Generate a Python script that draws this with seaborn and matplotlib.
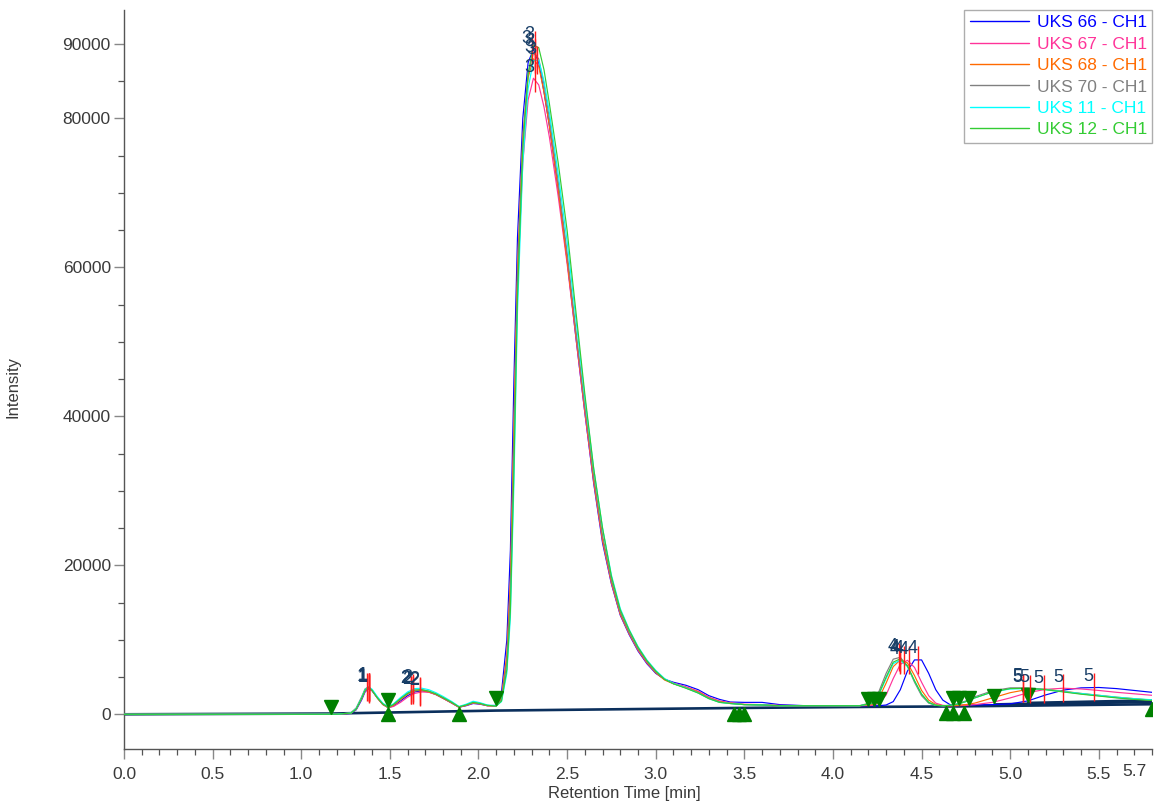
import numpy as np
import pandas as pd
import matplotlib
matplotlib.use("Agg")
import matplotlib.pyplot as plt
import matplotlib.transforms as mtrans
from matplotlib.ticker import MultipleLocator, FixedLocator, NullFormatter
import seaborn as sns

# ---------------- data ----------------
time_min = [0.00, 0.50, 1.00, 1.20, 1.28, 1.31, 1.34, 1.36, 1.38, 1.40,
            1.43, 1.46, 1.49, 1.52, 1.56, 1.60, 1.64, 1.68, 1.72, 1.76,
            1.80, 1.85, 1.89, 1.93, 1.97, 2.01, 2.05, 2.10, 2.13, 2.16,
            2.18, 2.20, 2.22, 2.25, 2.28, 2.31, 2.34, 2.37, 2.40, 2.45,
            2.50, 2.55, 2.60, 2.65, 2.70, 2.75, 2.80, 2.85, 2.90, 2.95,
            3.00, 3.05, 3.10, 3.17, 3.24, 3.30, 3.36, 3.42, 3.50, 3.60,
            3.70, 3.85, 4.00, 4.15, 4.22, 4.26, 4.30, 4.34, 4.38, 4.42,
            4.46, 4.50, 4.54, 4.58, 4.62, 4.66, 4.70, 4.75, 4.80, 4.90,
            5.00, 5.10, 5.20, 5.30, 5.40, 5.50, 5.60, 5.70, 5.80]

uks66 = [0, 0, 0, 10, 120, 600, 1900, 3000, 3450, 3150,
         2200, 1350, 900, 1100, 1800, 2500, 3000, 3150, 3000, 2650,
         2150, 1500, 950, 1150, 1450, 1350, 1150, 1200, 3000, 10000,
         22000, 45000, 64000, 80000, 87500, 89300, 87500, 83500, 79000, 70500,
         61000, 50500, 40500, 31000, 23000, 17500, 13300, 10700, 8500, 6800,
         5500, 4700, 4300, 3900, 3300, 2500, 2000, 1650, 1600, 1600,
         1300, 1150, 1150, 1150, 1150, 1150, 1250, 1700, 3300, 5800,
         7300, 7300, 5500, 3300, 1900, 1300, 1200, 1200, 1250, 1300,
         1400, 1800, 2600, 3250, 3550, 3600, 3450, 3200, 2950]

uks67 = [0, 0, 0, 10, 130, 650, 2000, 3100, 3500, 3150,
         2200, 1350, 900, 1050, 1600, 2300, 2800, 3000, 2950, 2650,
         2150, 1500, 950, 1200, 1500, 1400, 1150, 1100, 2200, 7500,
         17000, 38000, 58000, 74000, 82500, 85400, 84500, 81500, 77500, 69500,
         60500, 50500, 40500, 31200, 23300, 17600, 13400, 10800, 8600, 6900,
         5600, 4700, 4200, 3700, 3100, 2300, 1800, 1550, 1350, 1300,
         1200, 1150, 1150, 1150, 1200, 1500, 2600, 4800, 6700, 7250,
         6300, 4300, 2500, 1500, 1200, 1150, 1150, 1200, 1300, 1600,
         2200, 2900, 3350, 3500, 3400, 3200, 2950, 2750, 2550]

uks68 = [0, 0, 0, 10, 160, 750, 2200, 3300, 3600, 3200,
         2150, 1300, 900, 1200, 1950, 2700, 3150, 3200, 3000, 2650,
         2150, 1500, 950, 1200, 1550, 1400, 1150, 1100, 2300, 8000,
         18000, 39000, 60000, 77500, 85500, 88000, 87000, 83500, 79000, 70500,
         61000, 51000, 41000, 31500, 23500, 17800, 13500, 10900, 8700, 7000,
         5600, 4600, 4100, 3600, 3000, 2200, 1700, 1500, 1300, 1250,
         1150, 1150, 1150, 1150, 1300, 2200, 4200, 6400, 7300, 6900,
         5200, 3200, 1900, 1300, 1150, 1150, 1200, 1300, 1500, 2200,
         2900, 3350, 3350, 3100, 2800, 2550, 2300, 2100, 1900]

uks70 = [0, 0, 0, 10, 200, 850, 2300, 3400, 3700, 3250,
         2200, 1350, 950, 1300, 2100, 2850, 3250, 3300, 3100, 2700,
         2200, 1550, 1000, 1250, 1600, 1450, 1200, 1100, 2000, 7000,
         16000, 36000, 58000, 77000, 86000, 88800, 88000, 84500, 80000, 71500,
         62000, 51500, 41500, 32000, 24000, 18000, 13700, 11000, 8800, 7100,
         5700, 4700, 4100, 3550, 2900, 2150, 1650, 1450, 1300, 1250,
         1150, 1150, 1150, 1150, 1600, 3100, 5500, 7400, 7650, 6500,
         4300, 2500, 1500, 1200, 1150, 1200, 1400, 1800, 2350, 3150,
         3550, 3550, 3350, 3050, 2750, 2500, 2250, 2050, 1900]

uks11 = [0, 0, 0, 10, 170, 750, 2200, 3300, 3700, 3350,
         2350, 1500, 1000, 1400, 2250, 3000, 3450, 3500, 3300, 2900,
         2400, 1700, 1050, 1350, 1750, 1550, 1250, 1150, 1700, 5500,
         13000, 31000, 54000, 74000, 84000, 87800, 87800, 85000, 80800, 72500,
         63500, 53000, 42500, 33000, 25000, 18700, 14200, 11400, 9100, 7300,
         5900, 4800, 4150, 3550, 2850, 2100, 1600, 1450, 1300, 1250,
         1150, 1150, 1150, 1150, 1450, 2700, 4800, 6800, 7250, 6400,
         4500, 2700, 1600, 1200, 1150, 1200, 1350, 1700, 2200, 3000,
         3400, 3450, 3300, 3050, 2800, 2550, 2300, 2100, 1950]

uks12 = [0, 0, 0, 10, 150, 700, 2100, 3200, 3600, 3200,
         2200, 1400, 950, 1300, 2100, 2800, 3250, 3300, 3100, 2750,
         2250, 1600, 1000, 1250, 1600, 1450, 1200, 1100, 1800, 6000,
         14000, 33000, 56000, 76000, 86000, 89800, 89500, 86500, 82000, 74000,
         65000, 54000, 43000, 33000, 25000, 18500, 14000, 11300, 9000, 7200,
         5800, 4700, 4100, 3500, 2850, 2100, 1600, 1450, 1300, 1250,
         1150, 1150, 1150, 1150, 1500, 2800, 5000, 7000, 7450, 6500,
         4500, 2700, 1600, 1200, 1150, 1200, 1350, 1700, 2200, 3000,
         3450, 3500, 3300, 3000, 2700, 2450, 2200, 2000, 1850]

series_names = ["UKS 66 - CH1", "UKS 67 - CH1", "UKS 68 - CH1",
                "UKS 70 - CH1", "UKS 11 - CH1", "UKS 12 - CH1"]
series_values = [uks66, uks67, uks68, uks70, uks11, uks12]
series_colors = ["#0000ff", "#ff3399", "#ff6a00", "#808080", "#00ffff", "#33cc33"]

# integration baselines
base_t = [0.00, 1.17, 2.10, 3.47, 4.22, 4.66, 5.80]
base_y = [0, 100, 500, 850, 1000, 1050, 1350]
base5_t = [[4.70, 5.80], [4.91, 5.80], [5.10, 5.80]]
base5_y = [[1100, 1650], [1350, 1800], [1550, 1900]]

# peak start / end markers
start_t = [1.17, 1.49, 2.10, 4.20, 4.23, 4.26, 4.68, 4.71, 4.77, 4.91, 5.10]
start_y = [100, 950, 1200, 1150, 1150, 1150, 1200, 1200, 1200, 1500, 1600]
end_t = [1.49, 1.89, 3.44, 3.47, 3.50, 4.64, 4.68, 4.74, 5.80]
end_y = [950, 950, 1000, 1000, 1000, 1100, 1100, 1100, 1600]

# peak apexes (label, time, height)
peak_label = ["1"] * 6 + ["2"] * 6 + ["3"] * 6 + ["4"] * 6 + ["5"] * 6
peak_time = [1.38, 1.38, 1.37, 1.38, 1.38, 1.38,
             1.67, 1.67, 1.63, 1.62, 1.63, 1.62,
             2.30, 2.32, 2.32, 2.32, 2.33, 2.32,
             4.48, 4.43, 4.40, 4.37, 4.38, 4.38,
             5.47, 5.30, 5.19, 5.07, 5.11, 5.07]
peak_height = [3450, 3500, 3600, 3700, 3700, 3600,
               3150, 3000, 3200, 3300, 3500, 3300,
               89300, 85400, 88000, 88800, 87800, 89800,
               7300, 7250, 7300, 7650, 7250, 7450,
               3600, 3500, 3350, 3550, 3450, 3500]

x_major = [0.0, 0.5, 1.0, 1.5, 2.0, 2.5, 3.0, 3.5, 4.0, 4.5, 5.0, 5.5]
y_major = [0, 20000, 40000, 60000, 80000, 90000]

# ---------------- figure ----------------
sns.set_style("ticks")
plt.rcParams["font.family"] = ["Liberation Sans", "DejaVu Sans"]
text_col = "#3a3a3a"

fig = plt.figure(figsize=(11.58, 8.05), dpi=100)
ax = fig.add_axes([124 / 1158, 1 - 749 / 805, (1152 - 124) / 1158, (749 - 10) / 805])

rows = []
for name, vals in zip(series_names, series_values):
    assert len(vals) == len(time_min), name
    rows.append(pd.DataFrame({"t": time_min, "y": vals, "series": name}))
df = pd.concat(rows, ignore_index=True)

# baselines first (under curves)
ax.plot(base_t, base_y, color="#0b2f5c", lw=1.9, zorder=2)
for bt, by in zip(base5_t, base5_y):
    ax.plot(bt, by, color="#0b2f5c", lw=1.6, zorder=2)

sns.lineplot(data=df, x="t", y="y", hue="series", hue_order=series_names,
             palette=dict(zip(series_names, series_colors)), lw=0.85,
             ax=ax, zorder=3, sort=False, estimator=None)

# markers
up5 = mtrans.offset_copy(ax.transData, fig=fig, x=0, y=5, units="points")
dn5 = mtrans.offset_copy(ax.transData, fig=fig, x=0, y=-5, units="points")
ax.plot(start_t, start_y, ls="none", marker="v", ms=10, color="#008000",
        transform=up5, zorder=5)
ax.plot(end_t, end_y, ls="none", marker="^", ms=10, color="#008000",
        transform=dn5, zorder=5)

ax.plot(peak_time, peak_height, ls="none", marker="|", ms=20, mew=1.0,
        color="#ff1a1a", zorder=6)
for lab, pt, ph in zip(peak_label, peak_time, peak_height):
    ax.annotate(lab, (pt, ph), xytext=(-4, 8), textcoords="offset points",
                ha="center", va="center", fontsize=13, color="#173d66", zorder=7)

# axes styling
ax.set_xlim(0, 5.80)
ax.set_ylim(-4660, 94560)
ax.xaxis.set_major_locator(FixedLocator(x_major))
ax.xaxis.set_minor_locator(MultipleLocator(0.1))
ax.yaxis.set_major_locator(FixedLocator(y_major))
ax.yaxis.set_minor_locator(MultipleLocator(5000))
ax.set_xticklabels([f"{v:.1f}" for v in x_major])
ax.set_yticklabels([str(v) for v in y_major])
ax.text(5.7, -0.030, "5.7", transform=ax.get_xaxis_transform(), ha="center",
        va="center", fontsize=12.5, color=text_col)

for s in ["top", "right"]:
    ax.spines[s].set_visible(False)
for s in ["left", "bottom"]:
    ax.spines[s].set_color("#555555")
    ax.spines[s].set_linewidth(1.0)
ax.tick_params(axis="both", which="major", labelsize=12.5, labelcolor=text_col,
               color="#888888", length=7, width=1.0)
ax.tick_params(axis="x", which="major", pad=6)
ax.tick_params(axis="y", which="major", pad=2.5)
ax.tick_params(axis="both", which="minor", color="#555555", length=4, width=0.9)

ax.set_xlabel("Retention Time [min]", fontsize=12, color=text_col)
ax.set_ylabel("Intensity", fontsize=12, color=text_col)
ax.xaxis.set_label_coords(0.487, -0.050)
ax.yaxis.set_label_coords(-0.101, 0.49)

leg = ax.legend(loc="upper right", frameon=True, fancybox=False, fontsize=12.5,
                labelcolor="linecolor", handlelength=3.4, handletextpad=0.45,
                borderaxespad=0.0, borderpad=0.3, labelspacing=0.36)
leg.get_frame().set_edgecolor("#999999")
leg.get_frame().set_linewidth(1.0)
for line in leg.get_lines():
    line.set_linewidth(1.0)

fig.savefig("out.png", dpi=100)
